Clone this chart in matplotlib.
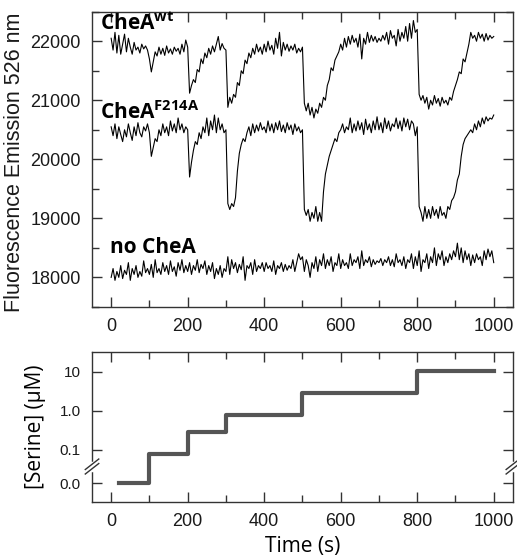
import numpy as np
import matplotlib
matplotlib.use('Agg')
from matplotlib import pyplot as plt
from matplotlib.ticker import MultipleLocator, FixedLocator, NullLocator

# Data, one reading every 5 s from 0 to 1000 s
time = np.arange(0, 1001, 5)

chea_wt = [
    22050, 21850, 22150, 21800, 22100, 21780, 21950, 22120, 21820, 22050,
    21900, 21780, 21980, 21850, 21900, 21800, 21950, 21870, 21920, 21850,
    21700, 21480, 21650, 21820, 21750, 21900, 21780, 21880, 21760, 21920,
    21800, 21870, 21780, 21900, 21830, 21880, 21780, 21950, 21820, 22020,
    21900, 21120, 21250, 21350, 21300, 21520, 21480, 21700, 21620, 21800,
    21720, 21880, 21780, 21920, 21820, 21950, 22080, 21850, 21960, 21880,
    21850, 20880, 21050, 20950, 21100, 21050, 21300, 21250, 21500, 21450,
    21680, 21620, 21800, 21720, 21880, 21780, 21950, 21820, 21900, 21780,
    21950, 21820, 22000, 21850, 21930, 21780, 22050, 21880, 22150, 21750,
    21980, 21850, 21950, 21830, 21920, 21850, 21950, 21800, 21880, 21820,
    21900, 20950, 20820, 20950, 20750, 20880, 20700, 20850, 20780, 20950,
    20880, 21050, 21000, 21250, 21350, 21550, 21500, 21680, 21750, 21820,
    21950, 21850, 22050, 21900, 22080, 21950, 22100, 21980, 22050, 21900,
    22120, 21700, 22050, 21950, 22150, 21980, 22100, 22000, 22080, 21980,
    22050, 22000, 22100, 22020, 22150, 21950, 22180, 22050, 22100, 21920,
    22200, 22000, 22150, 22050, 22250, 22000, 22300, 22050, 22350, 22150,
    22200, 21100, 21000, 21080, 20950, 21050, 20850, 21000, 20920, 21080,
    20950, 21030, 20900, 21050, 20950, 21000, 20920, 21050, 21000, 21150,
    21250, 21350, 21480, 21450, 21700, 21650, 21800, 21950, 22150, 22050,
    22100, 22000, 22150, 22050, 22120, 22000, 22130, 22020, 22100, 22050,
    22080,
]

chea_f214a = [
    20550, 20400, 20600, 20350, 20550, 20420, 20300, 20500, 20380, 20600,
    20450, 20320, 20550, 20400, 20620, 20450, 20380, 20550, 20480, 20600,
    20450, 20050, 20200, 20350, 20300, 20500, 20400, 20600, 20450, 20550,
    20400, 20650, 20480, 20600, 20450, 20700, 20500, 20600, 20450, 20550,
    20500, 19700, 19950, 20150, 20300, 20250, 20450, 20350, 20550, 20450,
    20700, 20400, 20650, 20500, 20750, 20450, 20700, 20500, 20600, 20450,
    20500, 19250, 19150, 19250, 19200, 19350, 19800, 20100, 20250, 20350,
    20300, 20450, 20550, 20400, 20600, 20450, 20580, 20480, 20620, 20500,
    20550, 20450, 20650, 20480, 20600, 20450, 20620, 20500, 20650, 20470,
    20580, 20450, 20620, 20500, 20580, 20420, 20600, 20480, 20550, 20450,
    20500, 19150, 19050, 19150, 18950, 19100, 19000, 19200, 18950, 19100,
    18950, 19450, 19750, 19900, 20050, 20150, 20250, 20350, 20300, 20450,
    20500, 20600, 20450, 20550, 20500, 20700, 20450, 20600, 20480, 20650,
    20500, 20620, 20420, 20680, 20500, 20600, 20450, 20650, 20500, 20720,
    20500, 20620, 20450, 20700, 20520, 20650, 20480, 20600, 20550, 20700,
    20520, 20650, 20480, 20700, 20550, 20680, 20500, 20650, 20600, 20400,
    20550, 19200, 19100, 18950, 19200, 19000, 19150, 19000, 19200, 19050,
    19150, 19000, 19200, 19050, 19100, 19000, 19200, 19150, 19300, 19350,
    19450, 19650, 19750, 20050, 20250, 20350, 20400, 20450, 20500, 20450,
    20600, 20500, 20650, 20550, 20700, 20600, 20720, 20650, 20700, 20680,
    20750,
]

no_chea = [
    18000, 18150, 17950, 18100, 18000, 18200, 17980, 18120, 18050, 18250,
    17950, 18150, 18050, 18200, 18000, 18100, 18020, 18280, 18080, 18150,
    18050, 18220, 18000, 18300, 18080, 18150, 18050, 18250, 18100, 18200,
    18050, 18280, 18100, 18180, 18020, 18250, 18120, 18300, 18080, 18200,
    18100, 18250, 18050, 18200, 18120, 18300, 18080, 18220, 18150, 18280,
    18050, 18200, 18100, 18250, 17980, 18150, 18050, 18200, 18000, 18150,
    18100, 18350, 18050, 18300, 18150, 18250, 18080, 18220, 18130, 18350,
    17950, 18200, 18150, 18250, 18050, 18300, 18100, 18200, 18150, 18250,
    18100, 18250, 18150, 18200, 18100, 18280, 18050, 18200, 18150, 18250,
    18100, 18220, 18120, 18200, 18150, 18300, 18100, 18250, 18400, 18300,
    18350, 18100, 18300, 18200, 18000, 18250, 18150, 18350, 18100, 18300,
    18200, 18400, 18150, 18300, 18200, 18350, 18100, 18250, 18200, 18400,
    18150, 18300, 18200, 18250, 18150, 18400, 18200, 18300, 18250, 18350,
    18150, 18450, 18200, 18300, 18250, 18350, 18180, 18300, 18220, 18280,
    18250, 18320, 18200, 18300, 18250, 18350, 18200, 18300, 18180, 18400,
    18250, 18300, 18200, 18350, 18150, 18300, 18250, 18400, 18150, 18350,
    18200, 18450, 18100, 18300, 18250, 18400, 18150, 18350, 18250, 18500,
    18200, 18400, 18300, 18450, 18200, 18350, 18250, 18400, 18300, 18450,
    18350, 18580, 18300, 18500, 18250, 18450, 18300, 18400, 18200, 18380,
    18250, 18400, 18300, 18350, 18200, 18450, 18300, 18480, 18350, 18450,
    18250,
]

# serine added in steps (uM), drawn as a staircase
step_times = [20, 100, 200, 300, 500, 800, 1000]
serine = [0.0, 0.08, 0.28, 0.8, 2.8, 10.5, 10.5]
serine_ticks = [0.0, 0.1, 1.0, 10]
serine_labels = ['0.0', '0.1', '1.0', '10']

ZERO_POS = 0.014   # where 0.0 sits below the axis break
BREAK_POS = 0.0376

TICK_FONT = 'Liberation Sans'
LABEL_FONT = 'Open Sans'
EDGE = '#333333'


def style_axis(ax):
    for sp in ax.spines.values():
        sp.set_color(EDGE)
        sp.set_linewidth(1.0)
    ax.tick_params(which='both', direction='in', top=True, right=True,
                   colors=EDGE, labelcolor='#1a1a1a', width=1.0)
    ax.tick_params(which='major', length=7, pad=8)
    ax.tick_params(which='minor', length=5)
    ax.xaxis.set_major_locator(MultipleLocator(200))
    ax.xaxis.set_minor_locator(MultipleLocator(100))
    ax.set_xlim(-50, 1050)
    for lab in ax.get_xticklabels() + ax.get_yticklabels():
        lab.set_fontfamily(TICK_FONT)


fig = plt.figure(figsize=(5.17, 5.57), dpi=100)
ax1 = fig.add_axes([0.178, 0.449, 0.814, 0.530])
ax2 = fig.add_axes([0.178, 0.099, 0.814, 0.269])

# Top panel: fluorescence traces
ax1.plot(time, chea_wt, color='black', lw=0.8)
ax1.plot(time, chea_f214a, color='black', lw=0.8)
ax1.plot(time, no_chea, color='black', lw=0.8)
ax1.set_ylim(17500, 22500)
ax1.yaxis.set_major_locator(MultipleLocator(1000))
ax1.yaxis.set_minor_locator(MultipleLocator(500))
ax1.tick_params(labelsize=13)
style_axis(ax1)
ax1.set_ylabel('Fluorescence Emission 526 nm', fontfamily=TICK_FONT,
               fontsize=15.5, color='#1a1a1a')
ax1.yaxis.set_label_coords(-0.16, 0.49)

ax1.text(-28, 22300, r'CheA$^{\mathregular{wt}}$', fontfamily=LABEL_FONT,
         fontweight='bold', fontsize=15, va='center', ha='left')
ax1.text(-28, 20800, r'CheA$^{\mathregular{F214A}}$', fontfamily=LABEL_FONT,
         fontweight='bold', fontsize=15, va='center', ha='left')
ax1.text(-4, 18500, 'no CheA', fontfamily=LABEL_FONT,
         fontweight='bold', fontsize=15, va='center', ha='left')

# Bottom panel: serine steps on a log axis with a break at 0
serine_plot = [ZERO_POS if c == 0 else c for c in serine]
ax2.step(step_times, serine_plot, where='post', color='#555555', lw=3)
ax2.set_yscale('log')
ax2.set_ylim(0.0047, 31.7)
tick_pos = [ZERO_POS if v == 0 else v for v in serine_ticks]
ax2.yaxis.set_major_locator(FixedLocator(tick_pos))
ax2.yaxis.set_minor_locator(NullLocator())
ax2.set_yticklabels(serine_labels)
ax2.tick_params(axis='y', labelsize=11)
ax2.tick_params(axis='x', labelsize=13)
style_axis(ax2)
ax2.set_xlabel('Time (s)', fontfamily=LABEL_FONT, fontsize=15)
ax2.set_ylabel('[Serine] (\u00b5M)', fontfamily=LABEL_FONT, fontsize=15)
ax2.yaxis.set_label_coords(-0.11, 0.5)

# break marks on both side spines
lo, hi = np.log10(ax2.get_ylim())
yb = (np.log10(BREAK_POS) - lo) / (hi - lo)
for xs in (0.0, 1.0):
    ax2.plot([xs, xs], [yb - 0.025, yb + 0.025], transform=ax2.transAxes,
             color='white', lw=2.5, clip_on=False, zorder=5)
    for off in (-0.015, 0.015):
        ax2.plot([xs - 0.016, xs + 0.016],
                 [yb + off - 0.035, yb + off + 0.035],
                 transform=ax2.transAxes, color=EDGE, lw=1.0,
                 clip_on=False, zorder=6)

fig.savefig('out.png', dpi=100)
